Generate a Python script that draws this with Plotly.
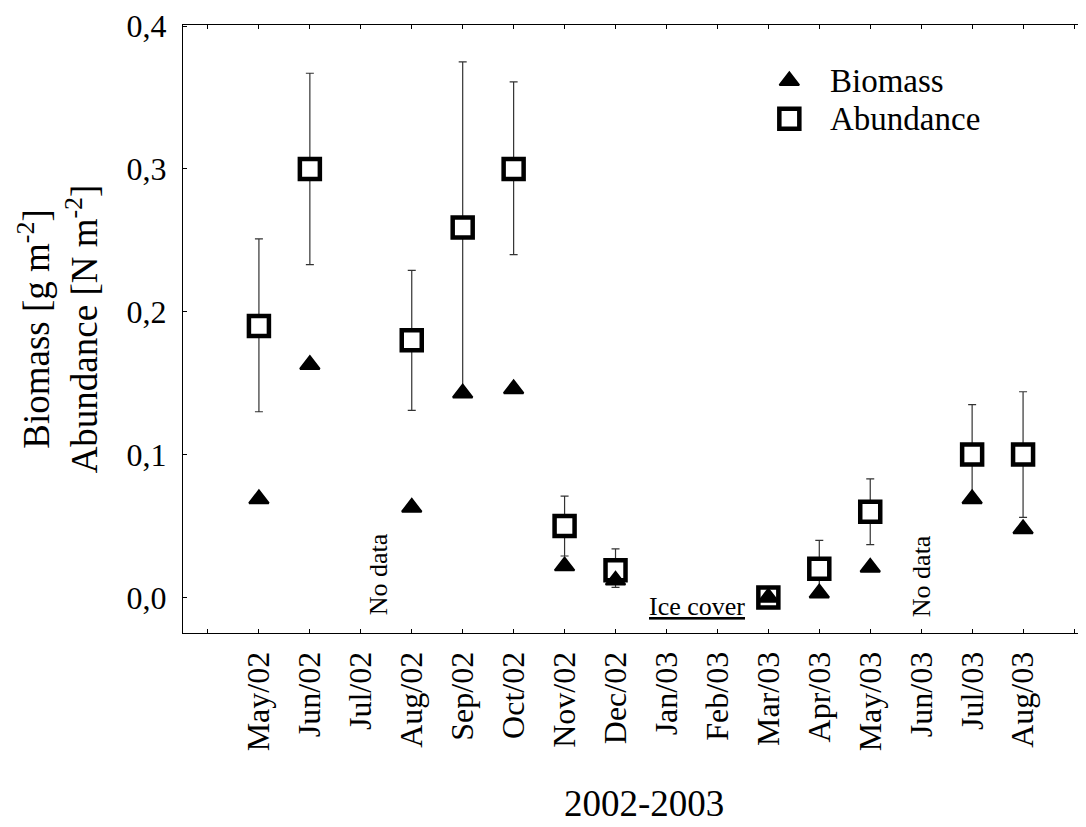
import plotly.graph_objects as go

months = ["May/02", "Jun/02", "Jul/02", "Aug/02", "Sep/02", "Oct/02", "Nov/02", "Dec/02",
          "Jan/03", "Feb/03", "Mar/03", "Apr/03", "May/03", "Jun/03", "Jul/03", "Aug/03"]

sample_months = ["May/02", "Jun/02", "Aug/02", "Sep/02", "Oct/02", "Nov/02", "Dec/02",
                 "Mar/03", "Apr/03", "May/03", "Jul/03", "Aug/03"]
biomass = [0.069, 0.163, 0.063, 0.143, 0.146, 0.022, 0.012, 0.000, 0.003, 0.021, 0.069, 0.048]
abundance = [0.190, 0.300, 0.180, 0.259, 0.300, 0.050, 0.019, 0.000, 0.020, 0.060, 0.100, 0.100]
abund_upper = [0.251, 0.367, 0.229, 0.375, 0.361, 0.071, 0.034, 0.000, 0.040, 0.083, 0.135, 0.144]
abund_lower = [0.130, 0.233, 0.131, 0.145, 0.240, 0.029, 0.007, 0.000, 0.005, 0.037, 0.070, 0.056]

y_ticks = [0.0, 0.1, 0.2, 0.3, 0.4]
y_ticktext = ["0,0", "0,1", "0,2", "0,3", "0,4"]

x_idx = [months.index(m) for m in sample_months]
err_plus = [u - a for u, a in zip(abund_upper, abundance)]
err_minus = [a - l for a, l in zip(abundance, abund_lower)]

FONT = "Liberation Serif, Times New Roman, serif"

OFF = 8  # page body margin
W, H = 1086 - OFF, 827 - OFF
# plot area in page pixels: left 183, top 23, bottom 633, right at window edge
L, T = 183 - OFF, 23 - OFF
B = H - (633 - OFF)
R = 0
plot_w = W - L - R
plot_h = H - T - B

fig = go.Figure()

fig.add_trace(go.Scatter(
    x=x_idx, y=abundance, mode="markers", name="Abundance",
    marker=dict(symbol="square", size=20, color="white",
                line=dict(color="black", width=4.5)),
    error_y=dict(type="data", symmetric=False, array=err_plus, arrayminus=err_minus,
                 color="#333333", thickness=1.2, width=4),
    showlegend=False,
))
fig.add_trace(go.Scatter(
    x=x_idx, y=biomass, mode="markers", name="Biomass",
    marker=dict(symbol="triangle-up", size=17, color="black",
                line=dict(color="black", width=2)),
    showlegend=False,
))


def px_to_paper_x(px):
    return (px - OFF - L) / plot_w


def px_to_paper_y(py):
    return (H - B - (py - OFF)) / plot_h


# hand-drawn legend on an overlay axis (0..1 in each direction)
leg_x = px_to_paper_x(790)
fig.add_trace(go.Scatter(
    x=[leg_x], y=[px_to_paper_y(79)], xaxis="x2", yaxis="y2", mode="markers",
    marker=dict(symbol="triangle-up", size=17, color="black", line=dict(color="black", width=2)),
    showlegend=False, hoverinfo="skip",
))
fig.add_trace(go.Scatter(
    x=[leg_x], y=[px_to_paper_y(117)], xaxis="x2", yaxis="y2", mode="markers",
    marker=dict(symbol="square", size=20, color="white", line=dict(color="black", width=4.5)),
    showlegend=False, hoverinfo="skip",
))

annotations = [
    dict(text="Biomass", x=px_to_paper_x(829), y=px_to_paper_y(79), xref="paper", yref="paper",
         xanchor="left", yanchor="middle", showarrow=False, font=dict(size=33, family=FONT, color="black")),
    dict(text="Abundance", x=px_to_paper_x(829), y=px_to_paper_y(117), xref="paper", yref="paper",
         xanchor="left", yanchor="middle", showarrow=False, font=dict(size=33, family=FONT, color="black")),
    dict(text="No data", x=2.35, y=0.016, xref="x", yref="y", textangle=-90,
         showarrow=False, font=dict(size=26, family=FONT, color="black")),
    dict(text="No data", x=13, y=0.015, xref="x", yref="y", textangle=-90,
         showarrow=False, font=dict(size=26, family=FONT, color="black")),
    dict(text="<u>Ice cover</u>", x=8.59, y=-0.006, xref="x", yref="y",
         showarrow=False, font=dict(size=26, family=FONT, color="black")),
    dict(text="2002-2003", x=px_to_paper_x(645), y=px_to_paper_y(804), xref="paper", yref="paper",
         xanchor="center", yanchor="middle", showarrow=False, font=dict(size=37, family=FONT, color="black")),
]

px_per_unit = 51.0
x_left = -(259 - 183) / px_per_unit
x_right = x_left + plot_w / px_per_unit

fig.update_layout(
    width=W, height=H,
    margin=dict(l=L, r=R, t=T, b=B, pad=0),
    paper_bgcolor="white", plot_bgcolor="white",
    font=dict(family=FONT, color="black"),
    annotations=annotations,
    xaxis=dict(
        range=[x_left, x_right],
        tickvals=list(range(len(months))),
        ticktext=months,
        tickangle=-90,
        ticks="inside", ticklen=4, tickcolor="black", tickwidth=1,
        minor=dict(tickvals=[-1, len(months)], ticks="inside", ticklen=4,
                   tickcolor="black", tickwidth=1, showgrid=False),
        ticklabelstandoff=5,
        showline=True, linecolor="black", linewidth=1, mirror="ticks",
        showgrid=False, zeroline=False,
        tickfont=dict(size=32, family=FONT, color="black"),
    ),
    yaxis=dict(
        range=[-0.0249, 0.4008],
        tickvals=y_ticks, ticktext=y_ticktext,
        ticks="inside", ticklen=4, tickcolor="black", tickwidth=1,
        showline=True, linecolor="black", linewidth=1, mirror="ticks",
        showgrid=False, zeroline=False,
        ticklabelstandoff=9,
        ticklabeloverflow="allow",
        tickfont=dict(size=32, family=FONT, color="black"),
        title=dict(text="Biomass [g m<sup>-2</sup>]<br>Abundance [N m<sup>-2</sup>]",
                   font=dict(size=37, family=FONT, color="black"), standoff=17),
    ),
    xaxis2=dict(range=[0, 1], overlaying="x", visible=False, fixedrange=True),
    yaxis2=dict(range=[0, 1], overlaying="y", visible=False, fixedrange=True),
)

fig.write_html("out.html")
